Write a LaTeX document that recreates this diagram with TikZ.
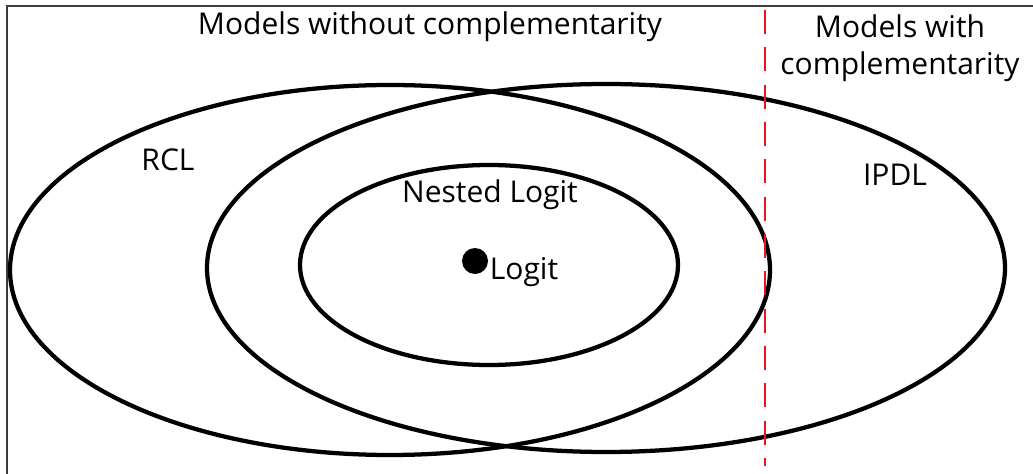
\documentclass[tikz,border=0pt]{standalone}
\usepackage{fontspec}
\setmainfont{Open Sans}
\begin{document}
\begin{tikzpicture}[x=0.75pt,y=-0.75pt,
  set/.style={draw=black,line width=3.2pt},
  lbl/.style={font=\fontsize{22.5pt}{27.5pt}\selectfont,inner sep=0pt},
  divider/.style={draw={rgb,255:red,235;green,20;blue,30},line width=2pt,dash pattern=on 18pt off 10pt}]
\useasboundingbox (0,0) rectangle (1033,474);
\draw[line width=1.5pt,draw={rgb,255:red,60;green,60;blue,60}] (7,474) -- (7,6) -- (1033,6);
\draw[set] (390,270) ellipse [x radius=380,y radius=185];
\draw[set] (606,268) ellipse [x radius=399,y radius=184];
\draw[set] (489,265) ellipse [x radius=189,y radius=100];
\fill (475,261) circle [radius=13];
\coordinate (dtop) at (765,10);
\coordinate (dbot) at (765,466);
\draw[divider] (dtop) -- (dbot);
\node[lbl] (without) at (430,27) {Models without complementarity};
\node[lbl,align=center] (with) at (900,48) {Models with\\complementarity};
\node[lbl] (rcl) at (168,160) {RCL};
\node[lbl] (ipdl) at (895,175) {IPDL};
\node[lbl] (nested) at (490,195) {Nested Logit};
\node[lbl] (logit) at (524,272) {Logit};
\end{tikzpicture}
\end{document}
